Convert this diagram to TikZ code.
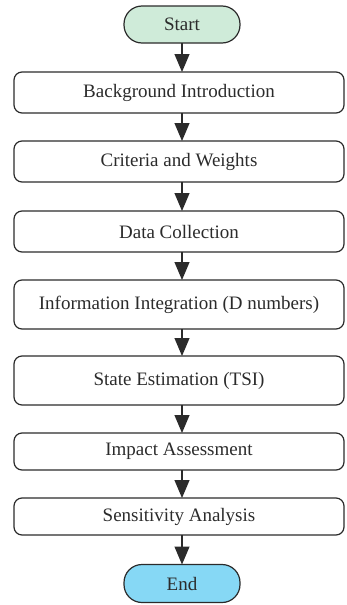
\documentclass[tikz,border=0pt]{standalone}
\usepackage{fontspec}
\setmainfont{Liberation Serif}
\usetikzlibrary{arrows.meta}
\definecolor{startgreen}{HTML}{CFEBD9}
\definecolor{endblue}{HTML}{86D8F5}
\definecolor{linegray}{HTML}{2B2B2B}
\tikzset{
  x=1pt, y=1pt,
  stepbox/.style={draw=linegray, line width=1.2pt, rounded corners=8pt, minimum width=330pt, inner sep=0pt, outer sep=0pt, font=\fontsize{19}{21}\selectfont, text=linegray},
  termbox/.style={draw=linegray, line width=1.2pt, rounded corners=18pt, minimum width=116pt, minimum height=37pt, inner sep=0pt, outer sep=0pt, font=\fontsize{19}{21}\selectfont, text=linegray},
  flow/.style={draw=linegray, line width=1.2pt, -{Triangle[length=18pt,width=15pt]}}
}
\begin{document}
\begin{tikzpicture}
\useasboundingbox (0,0) rectangle (346,-605);
\node[termbox, fill=startgreen] (start) at (182,-24.5) {Start};
\node[stepbox, minimum height=41pt] (b1) at (179,-92.5) {Background Introduction};
\node[stepbox, minimum height=41pt] (b2) at (179,-161.5) {Criteria and Weights};
\node[stepbox, minimum height=41pt] (b3) at (179,-231.5) {Data Collection};
\node[stepbox, minimum height=49pt] (b4) at (179,-304.5) {Information Integration (D numbers)};
\node[stepbox, minimum height=49pt] (b5) at (179,-380.5) {State Estimation (TSI)};
\node[stepbox, minimum height=37pt] (b6) at (179,-451.5) {Impact Assessment};
\node[stepbox, minimum height=37pt] (b7) at (179,-516.5) {Sensitivity Analysis};
\node[termbox, fill=endblue, minimum height=38pt] (end) at (182,-583.5) {End};
\draw[flow] (start.south) -- (b1.north -| start.south);
\draw[flow] (b1.south -| start.south) -- (b2.north -| start.south);
\draw[flow] (b2.south -| start.south) -- (b3.north -| start.south);
\draw[flow] (b3.south -| start.south) -- (b4.north -| start.south);
\draw[flow] (b4.south -| start.south) -- (b5.north -| start.south);
\draw[flow] (b5.south -| start.south) -- (b6.north -| start.south);
\draw[flow] (b6.south -| start.south) -- (b7.north -| start.south);
\draw[flow] (b7.south -| start.south) -- (end.north);
\end{tikzpicture}
\end{document}
